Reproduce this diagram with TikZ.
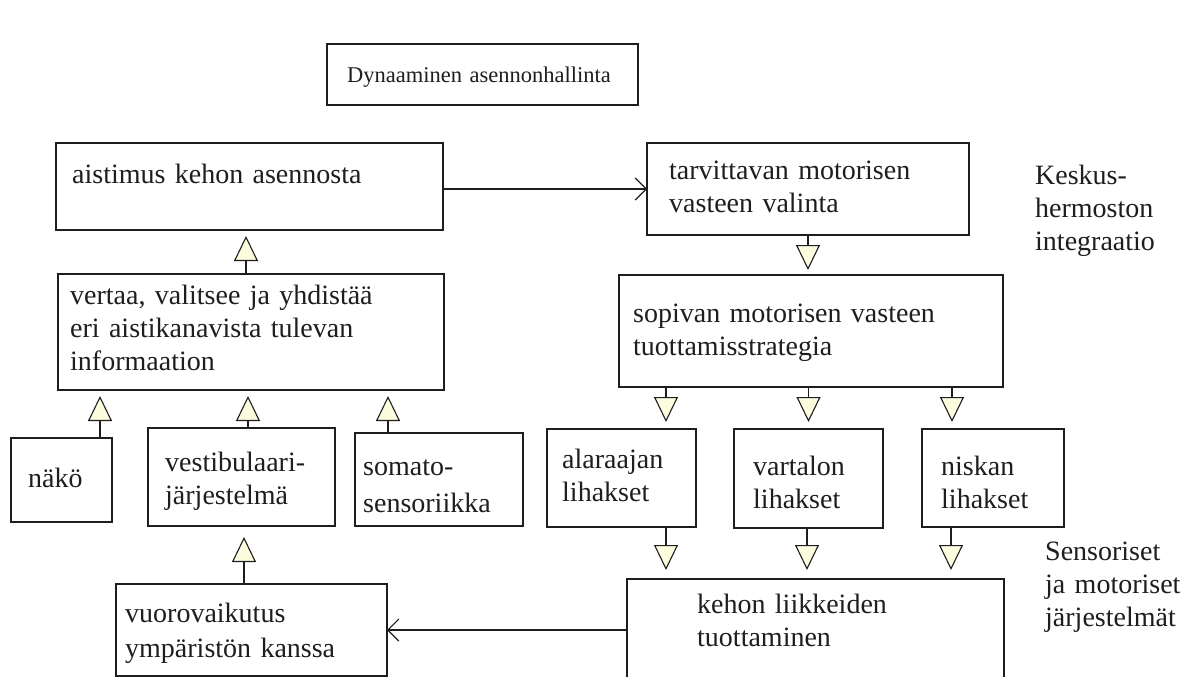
\documentclass[tikz,border=0pt]{standalone}
\usepackage{fontspec}
\setmainfont{Liberation Serif}
\usetikzlibrary{arrows.meta,calc}
\definecolor{ink}{RGB}{30,30,30}
\definecolor{triyel}{RGB}{252,252,222}
\begin{document}
\begin{tikzpicture}[x=1pt,y=-1pt,
  box/.style={draw=ink, line width=1.3pt, inner sep=0pt, outer sep=0pt, anchor=north west},
  txt/.style={anchor=base west, inner sep=0pt, align=left, text width=420pt, text=ink,
              font=\fontsize{28}{33}\selectfont},
  tri/.style={draw=ink, line width=1.1pt, -{Triangle[length=25pt,width=24pt,fill=triyel]}},
  barb/.style={draw=ink, line width=1.2pt, -{Straight Barb[length=11pt,width=22pt]}}]
\useasboundingbox[fill=white] (0,0) rectangle (1195,677);

% boxes
\node[box, minimum width=311pt, minimum height=61pt] (title) at (327,44) {};
\node[box, minimum width=387pt, minimum height=87pt] (aist) at (56,143) {};
\node[box, minimum width=322pt, minimum height=92pt] (tarv) at (647,143) {};
\node[box, minimum width=386pt, minimum height=116pt] (vert) at (58,274) {};
\node[box, minimum width=384pt, minimum height=112pt] (sopi) at (619,275) {};
\node[box, minimum width=101pt, minimum height=84pt] (nako) at (11,438) {};
\node[box, minimum width=187pt, minimum height=98pt] (vest) at (148,428) {};
\node[box, minimum width=168pt, minimum height=93pt] (soma) at (355,433) {};
\node[box, minimum width=149pt, minimum height=98pt] (alar) at (547,429) {};
\node[box, minimum width=149pt, minimum height=99pt] (vart) at (734,429) {};
\node[box, minimum width=142pt, minimum height=98pt] (nisk) at (922,429) {};
\node[box, minimum width=271pt, minimum height=92pt] (vuor) at (116,584) {};
\node[box, minimum width=377pt, minimum height=120pt] (keho) at (627,579) {};

% texts
\node[txt, font=\fontsize{22.5}{27}\selectfont] (title-t) at (347,82) {Dynaaminen asennonhallinta};
\node[txt] (aist-t) at (72,183) {aistimus kehon asennosta};
\node[txt] (tarv-t) at (669,179) {tarvittavan motorisen\\vasteen valinta};
\node[txt] (vert-t) at (70,304) {vertaa, valitsee ja yhdistää\\eri aistikanavista tulevan\\informaation};
\node[txt] (sopi-t) at (633,322) {sopivan motorisen vasteen\\tuottamisstrategia};
\node[txt] (nako-t) at (28,487) {näkö};
\node[txt] (vest-t) at (165,471) {vestibulaari-\\järjestelmä};
\node[txt, font=\fontsize{28}{37}\selectfont] (soma-t) at (363,475) {somato-\\sensoriikka};
\node[txt] (alar-t) at (562,468) {alaraajan\\lihakset};
\node[txt] (vart-t) at (753,475) {vartalon\\lihakset};
\node[txt] (nisk-t) at (941,475) {niskan\\lihakset};
\node[txt] (keho-t) at (697,613) {kehon liikkeiden\\tuottaminen};
\node[txt, font=\fontsize{28}{35}\selectfont] (vuor-t) at (125,622) {vuorovaikutus\\ympäristön kanssa};
\node[txt] (cns) at (1035,184) {Keskus-\\hermoston\\integraatio};
\node[txt] (sms) at (1045,560) {Sensoriset\\ja motoriset\\järjestelmät};

% horizontal connectors
\draw[barb] (aist.east |- tarv.west) -- (tarv.west);
\draw[barb] (vuor.east -| keho.west) -- (vuor.east);

% hollow-triangle connectors (upward, left side)
\draw[tri, shorten >=6pt] ($(vert.north west)+(188,0)$) -- ($(aist.south west)+(190,0)$);
\draw[tri, shorten >=6pt] ($(nako.north east)+(-12,0)$) coordinate (n1) -- (n1 |- vert.south);
\draw[tri, shorten >=6pt] ($(vest.north west)+(100,0)$) coordinate (v1) -- (v1 |- vert.south);
\draw[tri, shorten >=6pt] ($(soma.north west)+(33,0)$) coordinate (s1) -- (s1 |- vert.south);
\draw[tri, shorten >=11pt] ($(vuor.north west)+(128,0)$) coordinate (u1) -- (u1 |- vest.south);

% hollow-triangle connectors (downward, right side)
\draw[tri, shorten >=5pt] ($(tarv.south west)+(161,0)$) coordinate (t1) -- (t1 |- sopi.north);
\draw[tri, shorten >=7pt] ($(alar.north west)+(119,0)$) coordinate (a1) (a1 |- sopi.south) -- (a1);
\draw[tri, shorten >=7pt] (sopi.south -| vart.north) -- (vart.north);
\draw[tri, shorten >=7pt] ($(nisk.north west)+(30,0)$) coordinate (k1) (k1 |- sopi.south) -- (k1);
\draw[tri, shorten >=9pt] ($(alar.south west)+(119,0)$) coordinate (a2) -- (a2 |- keho.north);
\draw[tri, shorten >=9pt] ($(vart.south west)+(73,0)$) coordinate (r2) -- (r2 |- keho.north);
\draw[tri, shorten >=9pt] ($(nisk.south west)+(29,0)$) coordinate (k2) -- (k2 |- keho.north);
\end{tikzpicture}
\end{document}
